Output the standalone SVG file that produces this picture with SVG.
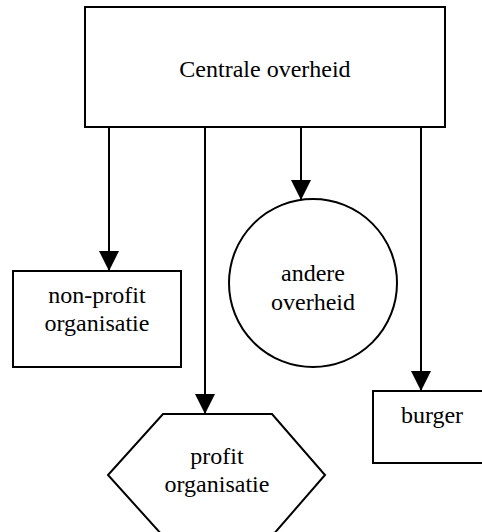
<svg xmlns="http://www.w3.org/2000/svg" width="482" height="532" viewBox="0 0 482 532">
<defs>
<style>
.n{fill:#fff;stroke:#000;stroke-width:2}
.t{font-family:"Liberation Serif","Times New Roman",serif;font-size:24px;fill:#000;text-anchor:middle}
.c{stroke:#000;stroke-width:2;fill:none}
</style>
<marker id="ah" viewBox="0 0 20 20" markerWidth="20" markerHeight="20" refX="20" refY="10" orient="auto" markerUnits="userSpaceOnUse">
<path d="M0,0 L20,10 L0,20 Z" fill="#000"/>
</marker>
</defs>
<rect width="482" height="532" fill="#fff"/>
<g id="centrale">
<rect class="n" x="85" y="7" width="360" height="120"/>
<text class="t" x="265" y="77">Centrale overheid</text>
</g>
<g id="nonprofit">
<rect class="n" x="13" y="271" width="168" height="96"/>
<text class="t" x="97" y="303">non-profit</text>
<text class="t" x="97" y="331">organisatie</text>
</g>
<g id="andere">
<circle class="n" cx="313" cy="283" r="84"/>
<text class="t" x="313" y="281">andere</text>
<text class="t" x="313" y="310">overheid</text>
</g>
<g id="profit">
<polygon class="n" points="163,414 272,414 325,475 272,536 163,536 108,475"/>
<text class="t" x="217" y="464">profit</text>
<text class="t" x="217" y="492">organisatie</text>
</g>
<g id="burger">
<rect class="n" x="373" y="391" width="120" height="72"/>
<text class="t" x="432" y="423">burger</text>
</g>
<g id="connectors">
<line class="c" x1="109" y1="127" x2="109" y2="271" marker-end="url(#ah)"/>
<line class="c" x1="205" y1="127" x2="205" y2="414" marker-end="url(#ah)"/>
<line class="c" x1="301" y1="127" x2="301" y2="200" marker-end="url(#ah)"/>
<line class="c" x1="421" y1="127" x2="421" y2="391" marker-end="url(#ah)"/>
</g>
</svg>
